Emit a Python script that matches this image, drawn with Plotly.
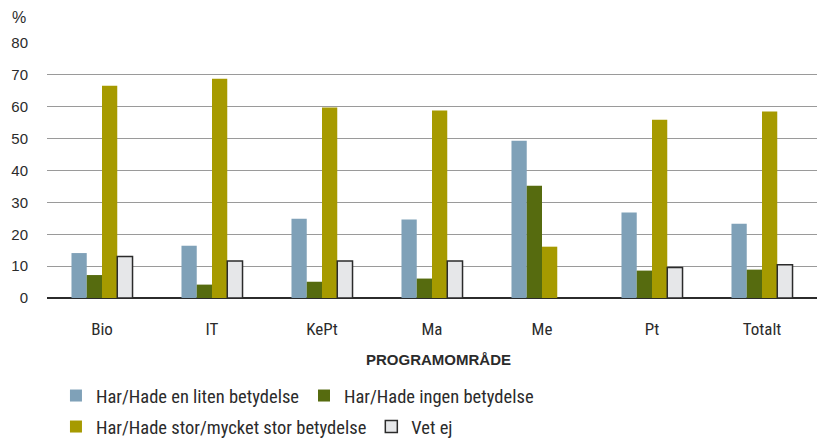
import plotly.graph_objects as go

# Data
categories = ["Bio", "IT", "KePt", "Ma", "Me", "Pt", "Totalt"]
liten = [14.1, 16.4, 24.9, 24.6, 49.3, 26.8, 23.3]
ingen = [7.2, 4.2, 5.1, 6.1, 35.2, 8.6, 8.9]
stor = [66.6, 68.8, 59.8, 58.8, 16.1, 55.9, 58.5]
vet_ej = [13.0, 11.6, 11.6, 11.6, None, 9.6, 10.4]
y_ticks = [0, 10, 20, 30, 40, 50, 60, 70, 80]

cond = "Roboto Condensed, Liberation Sans, sans-serif"
arial = "Liberation Sans, Arial, sans-serif"
txt = "#2b2b2b"

fig = go.Figure()

fig.add_trace(go.Bar(x=categories, y=liten, name="Har/Hade en liten betydelse",
                     marker=dict(color="#7fa1b8", line=dict(width=0)), legend="legend"))
fig.add_trace(go.Bar(x=categories, y=ingen, name="Har/Hade ingen betydelse",
                     marker=dict(color="#566b0f", line=dict(width=0)), legend="legend"))
fig.add_trace(go.Bar(x=categories, y=stor, name="Har/Hade stor/mycket stor betydelse",
                     marker=dict(color="#a69a00", line=dict(width=0)), legend="legend2"))
fig.add_trace(go.Bar(x=categories, y=vet_ej, name="Vet ej",
                     marker=dict(color="#e6e7e9", line=dict(color="#2b2b2b", width=1.5)),
                     legend="legend2"))

fig.update_layout(
    width=823, height=438,
    margin=dict(l=47, r=6, t=43, b=140, autoexpand=False),
    paper_bgcolor="white", plot_bgcolor="white",
    barmode="group", bargap=0.445, bargroupgap=0,
    font=dict(family=cond, size=18, color=txt),
    legend=dict(orientation="h", xref="container", yref="container",
                x=0.068, xanchor="left", y=1 - 396 / 438, yanchor="middle",
                font=dict(family=cond, size=18.5, color=txt),
                bgcolor="rgba(0,0,0,0)", traceorder="normal"),
    legend2=dict(orientation="h", xref="container", yref="container",
                 x=0.068, xanchor="left", y=1 - 427 / 438, yanchor="middle",
                 font=dict(family=cond, size=18.5, color=txt),
                 bgcolor="rgba(0,0,0,0)", traceorder="normal"),
    annotations=[
        dict(text="%", xref="paper", yref="paper", x=-0.037, y=1.1, xanchor="center",
             yanchor="middle", showarrow=False, font=dict(family=arial, size=16, color=txt)),
        dict(text="<b>PROGRAMOMRÅDE</b>", xref="paper", yref="paper", x=0.509, y=-0.24,
             xanchor="center", yanchor="middle", showarrow=False,
             font=dict(family=arial, size=15, color=txt)),
    ],
)

fig.update_xaxes(showgrid=False, showline=False, ticks="", ticklabelstandoff=19, automargin=False,
                 tickfont=dict(family=cond, size=17, color=txt))
fig.update_yaxes(range=[0, 80], tickvals=y_ticks, showgrid=True, gridcolor="#9a9a9a",
                 gridwidth=1.3, zeroline=True, zerolinecolor="#2b2b2b", zerolinewidth=2,
                 showline=False, ticks="", ticklabelstandoff=18, automargin=False,
                 tickfont=dict(family=arial, size=15, color=txt))

fig.write_html("out.html", config={"displayModeBar": False},
               post_script="document.body.style.margin='0';")
